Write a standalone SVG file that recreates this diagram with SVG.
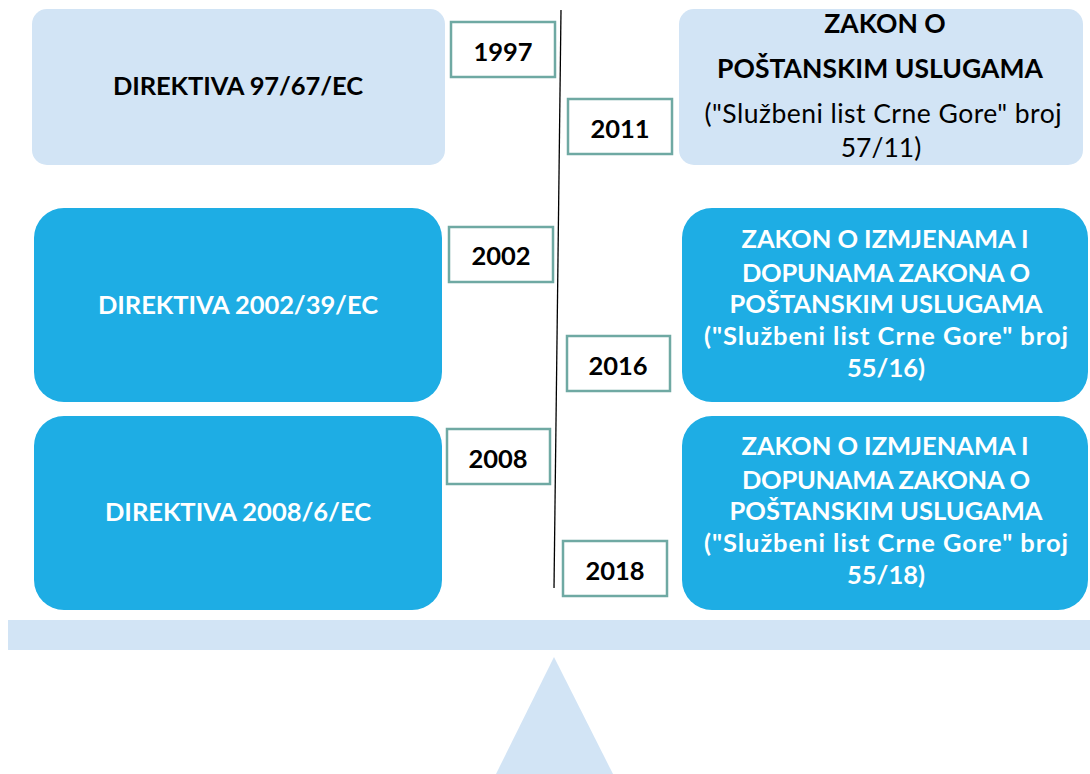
<svg xmlns="http://www.w3.org/2000/svg" width="1090" height="774" viewBox="0 0 1090 774">
<style>
.light{fill:#D2E4F5;}
.blue{fill:#1EADE4;}
.yr{fill:#fff;stroke:#6FA9A3;stroke-width:2.5;}
text{font-family:Lato,"Open Sans","Liberation Sans",sans-serif;text-anchor:middle;}
.b{font-weight:bold;}
.k{fill:#000;}
.w{fill:#fff;}
.t1{font-size:25.5px;}
.t3{font-size:26.5px;}
.t2{font-size:25.5px;}
.ty{font-size:25.5px;font-weight:bold;fill:#000;}
</style>
<rect width="1090" height="774" fill="#fff"/>
<g id="base">
<rect x="8" y="620" width="1082" height="30" class="light"/>
<polygon points="554,657 613,774 496,774" class="light"/>
</g>
<g id="connectors">
<line x1="561" y1="10" x2="554" y2="588" stroke="#000" stroke-width="1.3"/>
</g>
<g id="n-dir97">
<rect x="32" y="9" width="413" height="156" rx="15" class="light"/>
<text x="238" y="95" class="b k t1" textLength="250">DIREKTIVA 97/67/EC</text>
</g>
<g id="n-dir2002">
<rect x="34" y="208" width="408" height="194" rx="30" class="blue"/>
<text x="238" y="314" class="b w t1" textLength="280">DIREKTIVA 2002/39/EC</text>
</g>
<g id="n-dir2008">
<rect x="34" y="416" width="408" height="194" rx="30" class="blue"/>
<text x="238" y="521" class="b w t1" textLength="266">DIREKTIVA 2008/6/EC</text>
</g>
<g id="n-zakon2011">
<rect x="679" y="9" width="404" height="156" rx="15" class="light"/>
<text x="885" y="33" class="b k t3">ZAKON O</text>
<text x="880" y="78" class="b k t3" textLength="326">POŠTANSKIM USLUGAMA</text>
<text x="883" y="123" class="k t3" textLength="357">("Službeni list Crne Gore" broj</text>
<text x="881" y="157" class="k t3">57/11)</text>
</g>
<g id="n-zakon2016">
<rect x="682" y="208" width="406" height="194" rx="30" class="blue"/>
<text x="885" y="248" class="b w t2" textLength="287">ZAKON O IZMJENAMA I</text>
<text x="886" y="282" class="b w t2" textLength="288">DOPUNAMA ZAKONA O</text>
<text x="886" y="313" class="b w t2" textLength="313">POŠTANSKIM USLUGAMA</text>
<text x="886" y="345" class="b w t2" textLength="364">("Službeni list Crne Gore" broj</text>
<text x="886" y="377" class="b w t2">55/16)</text>
</g>
<g id="n-zakon2018">
<rect x="682" y="416" width="406" height="194" rx="30" class="blue"/>
<text x="885" y="455" class="b w t2" textLength="287">ZAKON O IZMJENAMA I</text>
<text x="886" y="489" class="b w t2" textLength="288">DOPUNAMA ZAKONA O</text>
<text x="886" y="520" class="b w t2" textLength="313">POŠTANSKIM USLUGAMA</text>
<text x="886" y="552" class="b w t2" textLength="364">("Službeni list Crne Gore" broj</text>
<text x="886" y="584" class="b w t2">55/18)</text>
</g>
<g id="y1997"><rect x="451" y="22" width="104" height="55" class="yr"/><text x="503" y="61" class="ty">1997</text></g>
<g id="y2011"><rect x="568" y="99" width="104" height="55" class="yr"/><text x="620" y="138" class="ty">2011</text></g>
<g id="y2002"><rect x="449" y="227" width="104" height="55" class="yr"/><text x="501" y="265" class="ty">2002</text></g>
<g id="y2016"><rect x="567" y="336" width="103" height="55" class="yr"/><text x="618" y="375" class="ty">2016</text></g>
<g id="y2008"><rect x="447" y="429" width="103" height="55" class="yr"/><text x="498" y="468" class="ty">2008</text></g>
<g id="y2018"><rect x="563" y="541" width="104" height="55" class="yr"/><text x="615" y="580" class="ty">2018</text></g>
</svg>
